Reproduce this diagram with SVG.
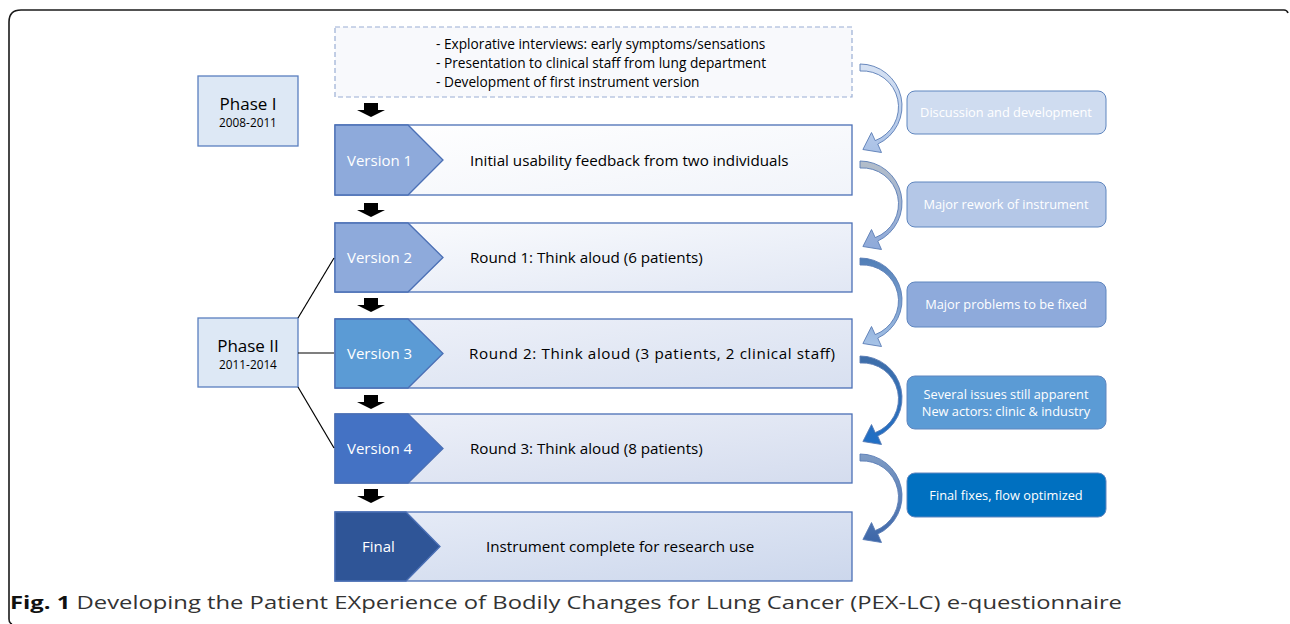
<svg xmlns="http://www.w3.org/2000/svg" width="1290" height="624" viewBox="0 0 1290 624">
<style>
text{font-family:"Open Sans","Liberation Sans",Arial,sans-serif}
.ph{fill:#dde8f5;stroke:#5a7fbf;stroke-width:1.3}
.vb{stroke:#4a6fb5;stroke-width:1.3}
.wt{fill:#ffffff;font-size:15px}
.bt{fill:#000;font-size:15.2px}
.it{fill:#000;font-size:13.7px}
.rb{stroke:#5f86bf;stroke-width:1}
.rt{fill:#ffffff;font-size:12.8px;text-anchor:middle}
.ca{stroke:#5a7db5;stroke-width:0.9}
.blk{fill:#000}
</style>
<defs>
<linearGradient id="g1" x1="0" y1="0" x2="1" y2="1"><stop offset="0" stop-color="#ffffff"/><stop offset="1" stop-color="#f1f4fa"/></linearGradient>
<linearGradient id="g2" x1="0" y1="0" x2="1" y2="1"><stop offset="0" stop-color="#fbfcfe"/><stop offset="1" stop-color="#e1e7f4"/></linearGradient>
<linearGradient id="g3" x1="0" y1="0" x2="1" y2="1"><stop offset="0" stop-color="#eef1f9"/><stop offset="1" stop-color="#d8e0f0"/></linearGradient>
<linearGradient id="g4" x1="0" y1="0" x2="1" y2="1"><stop offset="0" stop-color="#eef1f9"/><stop offset="1" stop-color="#d4dcee"/></linearGradient>
<linearGradient id="g5" x1="0" y1="0" x2="1" y2="1"><stop offset="0" stop-color="#e7ecf7"/><stop offset="1" stop-color="#ccd7ec"/></linearGradient>
<linearGradient id="a1" x1="0" y1="0" x2="0" y2="1"><stop offset="0" stop-color="#d7e2f3"/><stop offset="1" stop-color="#a9c1e6"/></linearGradient>
<linearGradient id="a2" x1="0" y1="0" x2="0" y2="1"><stop offset="0" stop-color="#b3bdc9"/><stop offset="1" stop-color="#8eaadb"/></linearGradient>
<linearGradient id="a3" x1="0" y1="0" x2="0" y2="1"><stop offset="0" stop-color="#4f7db6"/><stop offset="1" stop-color="#a8c4e8"/></linearGradient>
<linearGradient id="a4" x1="0" y1="0" x2="0" y2="1"><stop offset="0" stop-color="#3f6ea8"/><stop offset="1" stop-color="#1f6fc6"/></linearGradient>
<linearGradient id="a5" x1="0" y1="0" x2="0" y2="1"><stop offset="0" stop-color="#7f9cc5"/><stop offset="1" stop-color="#3c66a8"/></linearGradient>
<path id="carr" d="M860,3 A42,42 0 0 1 877.75,83.07 L881.5,91.5 L862.9,88.5 L871.5,71.5 L875.2,79.6 A36,36 0 0 0 860,10 Z"/>
<path id="down" d="M364,0 L378,0 L378,7 L385,7 L371,14 L357,7 L364,7 Z"/>
</defs>
<rect width="1290" height="624" fill="#ffffff"/>
<path d="M1288,13 Q1287,10 1284,10 L21,10 Q9,10 9,22 L9,619 Q9,623 12,624" fill="none" stroke="#1a1a1a" stroke-width="1.6"/>

<g id="intro">
<rect x="335" y="27" width="517" height="70" fill="#f8f9fc" stroke="#9aaed4" stroke-width="1.2" stroke-dasharray="5,3"/>
<text x="436" y="49" class="it">- Explorative interviews: early symptoms/sensations</text>
<text x="436" y="68" class="it">- Presentation to clinical staff from lung department</text>
<text x="436" y="87" class="it">- Development of first instrument version</text>
</g>

<g id="phase1">
<rect x="198" y="76" width="100" height="70" class="ph"/>
<text x="248" y="110" font-size="17" text-anchor="middle" fill="#000">Phase I</text>
<text x="248" y="127" font-size="11.8" text-anchor="middle" fill="#000">2008-2011</text>
</g>
<g id="phase2">
<rect x="198" y="318" width="100" height="69" class="ph"/>
<text x="248" y="352" font-size="17" text-anchor="middle" fill="#000">Phase II</text>
<text x="248" y="369" font-size="11.8" text-anchor="middle" fill="#000">2011-2014</text>
</g>

<g id="v1">
<rect x="335" y="125" width="517" height="70" fill="url(#g1)" class="vb"/>
<path d="M335,125 L408,125 L443,160 L408,195 L335,195 Z" fill="#8eaadb" class="vb"/>
<text x="347" y="166" class="wt">Version 1</text>
<text x="470" y="166" class="bt">Initial usability feedback from two individuals</text>
</g>
<g id="v2">
<rect x="335" y="223" width="517" height="69" fill="url(#g2)" class="vb"/>
<path d="M335,223 L408,223 L443,257.5 L408,292 L335,292 Z" fill="#8eaadb" class="vb"/>
<text x="347" y="263" class="wt">Version 2</text>
<text x="470" y="263" class="bt">Round 1: Think aloud (6 patients)</text>
</g>
<g id="v3">
<rect x="335" y="319" width="517" height="69" fill="url(#g3)" class="vb"/>
<path d="M335,319 L408,319 L443,353.5 L408,388 L335,388 Z" fill="#5b9bd5" class="vb"/>
<text x="347" y="359" class="wt">Version 3</text>
<text x="469" y="359" class="bt" textLength="366" lengthAdjust="spacing">Round 2: Think aloud (3 patients, 2 clinical staff)</text>
</g>
<g id="v4">
<rect x="335" y="414" width="517" height="69" fill="url(#g4)" class="vb"/>
<path d="M335,414 L408,414 L443,448.5 L408,483 L335,483 Z" fill="#4472c4" class="vb"/>
<text x="347" y="454" class="wt">Version 4</text>
<text x="470" y="454" class="bt">Round 3: Think aloud (8 patients)</text>
</g>
<g id="final">
<rect x="335" y="512" width="517" height="69" fill="url(#g5)" class="vb"/>
<path d="M335,512 L406,512 L440,546.5 L406,581 L335,581 Z" fill="#2f5597" class="vb"/>
<text x="362" y="552" class="wt">Final</text>
<text x="486" y="552" class="bt">Instrument complete for research use</text>
</g>

<g id="r1"><rect x="907" y="91" width="199" height="43" rx="8" fill="#cfdcf0" class="rb"/><text x="1006" y="117" class="rt" fill="#eef2fa">Discussion and development</text></g>
<g id="r2"><rect x="907" y="182" width="199" height="45" rx="8" fill="#b4c7e7" class="rb"/><text x="1006" y="209" class="rt">Major rework of instrument</text></g>
<g id="r3"><rect x="907" y="282" width="199" height="45" rx="8" fill="#8eaadb" class="rb"/><text x="1006" y="309" class="rt">Major problems to be fixed</text></g>
<g id="r4"><rect x="907" y="376" width="199" height="53" rx="8" fill="#5b9bd5" class="rb"/><text x="1006" y="399" class="rt">Several issues still apparent</text><text x="1006" y="416" class="rt">New actors: clinic &amp; industry</text></g>
<g id="r5"><rect x="907" y="473" width="199" height="44" rx="8" fill="#0070c0" class="rb"/><text x="1006" y="500" class="rt">Final fixes, flow optimized</text></g>

<g id="connectors">
<line x1="298" y1="318" x2="334" y2="258" stroke="#000" stroke-width="1.2"/>
<line x1="298" y1="353" x2="334" y2="353" stroke="#000" stroke-width="1.2"/>
<line x1="298" y1="387" x2="334" y2="448" stroke="#000" stroke-width="1.2"/>
<use href="#down" class="blk" transform="translate(0,103)"/>
<use href="#down" class="blk" transform="translate(0,203)"/>
<use href="#down" class="blk" transform="translate(0,298)"/>
<use href="#down" class="blk" transform="translate(0,395)"/>
<use href="#down" class="blk" transform="translate(0,489)"/>
<use href="#carr" fill="url(#a1)" class="ca" transform="translate(0,61)"/>
<use href="#carr" fill="url(#a2)" class="ca" transform="translate(0,158)"/>
<use href="#carr" fill="url(#a3)" class="ca" transform="translate(0,255)"/>
<use href="#carr" fill="url(#a4)" class="ca" transform="translate(0,353)"/>
<use href="#carr" fill="url(#a5)" class="ca" transform="translate(0,451)"/>
</g>

<text x="10" y="609" font-size="18" fill="#333" textLength="1112" lengthAdjust="spacingAndGlyphs"><tspan font-weight="bold" fill="#111">Fig. 1</tspan> Developing the Patient EXperience of Bodily Changes for Lung Cancer (PEX-LC) e-questionnaire</text>
</svg>
